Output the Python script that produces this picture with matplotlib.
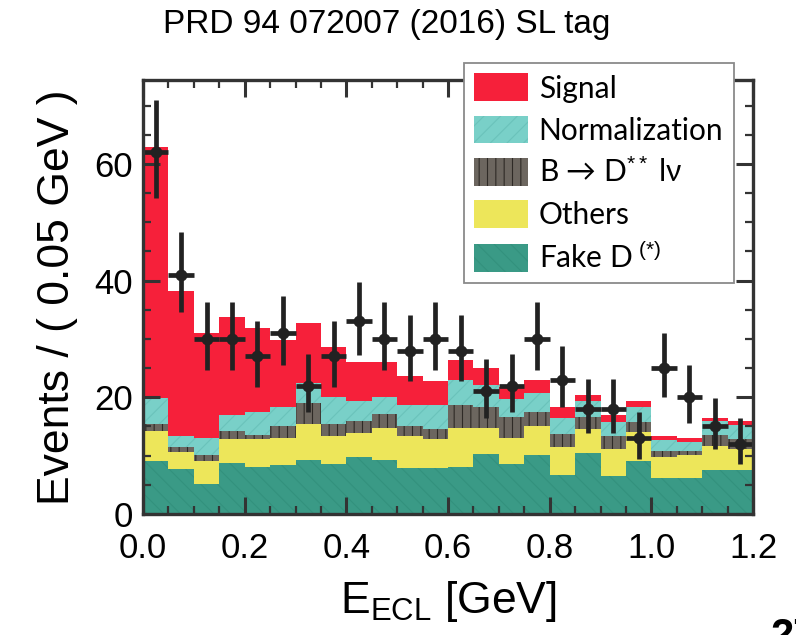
import numpy as np
import matplotlib
matplotlib.use('Agg')
import matplotlib.pyplot as plt
from matplotlib.patches import Patch

plt.rcParams['font.family'] = ['Liberation Sans', 'DejaVu Sans']
plt.rcParams['mathtext.fontset'] = 'custom'
plt.rcParams['mathtext.rm'] = 'Liberation Sans'
plt.rcParams['mathtext.it'] = 'Liberation Sans:italic'
plt.rcParams['hatch.linewidth'] = 0.8

# E_ECL bins, 0.05 GeV wide
edges = np.round(np.arange(0, 1.2001, 0.05), 3)

# stacked components (events per bin), bottom to top
fake_d = [9.1, 7.7, 5.1, 8.7, 8.1, 8.4, 9.3, 8.5, 9.7, 9.3, 7.9, 7.9,
          8.1, 10.3, 8.6, 10.1, 6.6, 10.4, 6.5, 9.1, 6.2, 6.2, 7.6, 7.6]
others = [5.1, 3.0, 4.0, 4.2, 4.7, 4.6, 6.2, 4.9, 4.1, 5.4, 5.4, 5.0,
          6.7, 4.4, 4.4, 4.9, 4.9, 4.1, 4.6, 4.9, 3.6, 3.9, 4.1, 3.5]
dss = [1.2, 0.8, 1.0, 1.3, 0.7, 2.0, 3.6, 2.0, 2.2, 2.4, 1.7, 1.6,
       3.8, 3.7, 3.7, 2.4, 2.2, 2.1, 2.2, 1.7, 1.0, 0.7, 1.9, 1.8]
norm = [4.4, 1.8, 3.0, 2.7, 3.9, 3.3, 3.4, 4.6, 3.4, 3.0, 3.6, 4.1,
        4.3, 3.7, 3.0, 3.3, 2.8, 2.7, 2.5, 2.7, 1.9, 1.6, 2.3, 2.3]
signal = [43.1, 25.0, 18.0, 16.9, 14.5, 11.6, 10.2, 8.6, 6.7, 6.0, 5.1, 4.2,
          3.5, 3.0, 2.1, 2.2, 1.8, 1.1, 1.2, 1.0, 0.7, 0.6, 0.5, 0.7]

# data points with asymmetric errors
data = [62, 41, 30, 30, 27, 31, 22, 27, 33, 30, 28, 30,
        28, 21, 22, 30, 23, 18, 18, 13, 25, 20, 15, 12]
err_hi = [8.9, 7.3, 6.4, 6.4, 6.1, 6.4, 5.4, 6.1, 6.8, 6.4, 6.1, 6.4,
          6.1, 5.5, 5.4, 6.4, 5.8, 5.2, 5.2, 4.4, 6.0, 5.5, 4.9, 4.5]
err_lo = [7.8, 6.4, 5.4, 5.4, 5.2, 5.5, 4.6, 5.2, 5.7, 5.4, 5.2, 5.4,
          5.2, 4.6, 4.6, 5.4, 4.7, 4.2, 4.2, 3.6, 5.0, 4.4, 3.8, 3.5]

components = [
    # label, values, face, hatch, hatch colour
    ('Fake D$^{\\ (*)}$', fake_d, '#3a9a86', '\\\\', '#33917d'),
    ('Others', others, '#ede65a', None, '#ede65a'),
    ('B → D$^{**}$ lν', dss, '#6c665f', '||', '#2e2a26'),
    ('Normalization', norm, '#79d0c8', '//', '#6ac3bb'),
    ('Signal', signal, '#f6203a', None, '#f6203a'),
]

fig = plt.figure(figsize=(7.96, 6.35), dpi=100)
ax = fig.add_axes([0.1797, 0.1906, 0.7663, 0.6835])

bottom = np.zeros(len(data))
handles = {}
for label, vals, face, hatch, hcol in components:
    vals = np.asarray(vals)
    ax.stairs(bottom + vals, edges, baseline=bottom, fill=True,
              facecolor=face, edgecolor=hcol, hatch=hatch, linewidth=0)
    handles[label] = Patch(facecolor=face, edgecolor=hcol, hatch=hatch, linewidth=0)
    bottom = bottom + vals

centers = 0.5 * (edges[:-1] + edges[1:])
ax.errorbar(centers, data, yerr=[err_lo, err_hi], xerr=0.025, fmt='o',
            color='#222222', ms=7.5, elinewidth=3.4, capsize=0, zorder=6)

ax.set_xlim(0, 1.2)
ax.set_ylim(0, 74.4)
ax.set_xticks(np.arange(0, 1.21, 0.2))
ax.set_xticks(edges, minor=True)
ax.set_xticklabels([f'{v:.1f}' for v in np.arange(0, 1.21, 0.2)])
ax.set_yticks([0, 20, 40, 60])
ax.set_yticks(np.arange(0, 75, 5), minor=True)

for sp in ax.spines.values():
    sp.set_linewidth(2.4)
    sp.set_color('#333333')
    sp.set_zorder(7)
ax.tick_params(which='both', direction='in', top=True, right=True,
               color='#333333', labelsize=25)
ax.tick_params(which='major', length=12, width=2.2)
ax.tick_params(axis='x', which='major', pad=13)
ax.tick_params(axis='y', which='major', pad=7)
ax.tick_params(which='minor', length=6, width=1.6)

ax.set_xlabel(r'$\mathregular{E_{ECL}}$ [GeV]', fontsize=32, labelpad=10)
ax.set_ylabel('Events / ( 0.05 GeV )', fontsize=32, labelpad=12)

order = ['Signal', 'Normalization', 'B → D$^{**}$ lν', 'Others', 'Fake D$^{\\ (*)}$']
leg = ax.legend([handles[k] for k in order], order, loc='upper left',
                bbox_to_anchor=(0.526, 1.039),
                prop={'family': ['Lato', 'DejaVu Sans'], 'size': 21.5},
                handlelength=1.8, handleheight=1.05, labelspacing=0.44,
                borderpad=0.35, handletextpad=0.35, borderaxespad=0,
                fancybox=False, framealpha=1, edgecolor='#8a8a8a')
leg.get_frame().set_linewidth(1.3)
leg.set_zorder(10)

fig.text(0.486, 0.962, 'PRD 94 072007 (2016) SL tag', fontsize=24,
         ha='center', va='center')
fig.text(771 / 796, 1 - 617 / 635, '27', fontsize=30, fontweight='bold',
         ha='left', va='top')

fig.savefig('out.png', dpi=100)
